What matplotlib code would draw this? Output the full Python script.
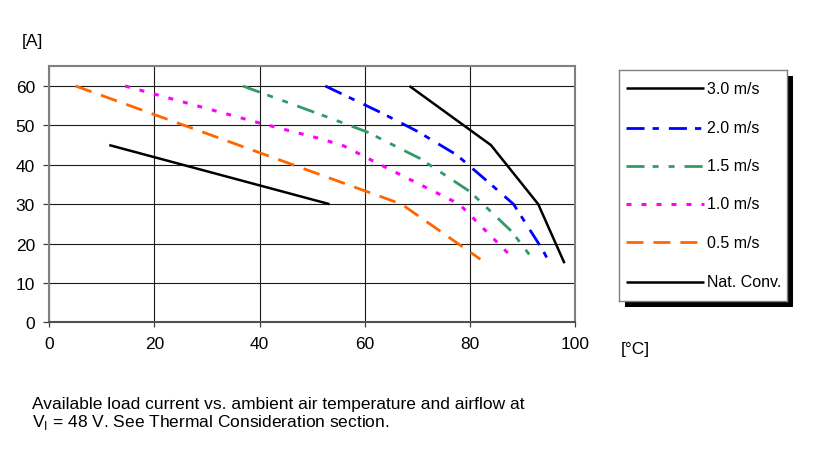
import matplotlib
matplotlib.use("Agg")
import matplotlib.pyplot as plt
from matplotlib.patches import Rectangle
from matplotlib.lines import Line2D

plt.rcParams['font.family'] = ['Liberation Sans', 'DejaVu Sans']
plt.rcParams['mathtext.fontset'] = 'custom'
plt.rcParams['mathtext.rm'] = 'Liberation Sans'
plt.rcParams['lines.scale_dashes'] = False

# ---- data ----
labels = ["3.0 m/s", "2.0 m/s", "1.5 m/s", "1.0 m/s", "0.5 m/s", "Nat. Conv."]
t_30 = [68.5, 84, 93, 98]
i_30 = [60, 45, 30, 15]
t_20 = [52.5, 63, 70, 77.5, 83.5, 88.3, 93.8, 95.2]
i_20 = [60, 53.3, 48.5, 42.5, 35.6, 30, 18.5, 15]
t_15 = [36.8, 52.3, 60.5, 70.5, 80, 88, 91.7]
i_15 = [60, 52.4, 48.3, 41.6, 33.2, 23, 16.5]
t_10 = [14.4, 40, 51.6, 56, 62.4, 78, 88.4]
i_10 = [60, 50.6, 46.6, 44.8, 40.4, 30, 16]
t_05 = [5, 67, 82]
i_05 = [60, 30, 16]
t_nc = [11.4, 53.3]
i_nc = [45, 30]
xticks = [0, 20, 40, 60, 80, 100]
yticks = [0, 10, 20, 30, 40, 50, 60]

series = [
    (t_30, i_30, dict(color='black', lw=1.8, linestyle='-')),
    (t_20, i_20, dict(color='#0000FF', lw=2.0, dashes=(13, 5.8, 4.5, 7.2))),
    (t_15, i_15, dict(color='#339966', lw=2.0, dashes=(13, 5.8, 4.3, 7.2, 4.3, 7.2))),
    (t_10, i_10, dict(color='#FF00FF', lw=2.2, dashes=(3.6, 7.2))),
    (t_05, i_05, dict(color='#FF6600', lw=2.0, dashes=(12.2, 7.2))),
    (t_nc, i_nc, dict(color='black', lw=1.8, linestyle='-')),
]

W, H = 819, 464
FS = 12.5
fig = plt.figure(figsize=(W / 100, H / 100), dpi=100)
ax = fig.add_axes([49.3 / W, 1 - 323.3 / H, (575 - 49.3) / W, (323.3 - 67.3) / H])

for x, y, st in series:
    ax.plot(x, y, solid_capstyle='butt', dash_capstyle='butt', zorder=3, **st)

ax.set_xlim(0, 100)
ax.set_ylim(0, 65)
ax.set_xticks(xticks)
ax.set_yticks(yticks)
ax.grid(True, color='#1a1a1a', lw=0.8)
ax.set_axisbelow(True)
for s in ax.spines.values():
    s.set_color('#808080')
    s.set_linewidth(1.5)
ax.spines['bottom'].set_color('#505050')
ax.tick_params(axis='y', length=4.3, width=0.9, color='#404040', pad=6, labelsize=FS)
ax.tick_params(axis='x', length=3.6, width=0.9, color='#404040', pad=6.5, labelsize=FS)

fig.text(32.5 / W, 1 - 41.7 / H, "[A]", ha='center', va='center', fontsize=FS)
fig.text(635 / W, 1 - 350 / H, "[°C]", ha='center', va='center', fontsize=FS)

# ---- legend (manual) ----
lx0, ly0, lx1, ly1 = 619.3, 71, 786.7, 302
sh = 6
fig.add_artist(Rectangle(((lx0 + sh) / W, 1 - (ly1 + sh) / H), (lx1 - lx0) / W, (ly1 - ly0) / H,
                         transform=fig.transFigure, facecolor='black', edgecolor='none', zorder=1))
lax = fig.add_axes([lx0 / W, 1 - ly1 / H, (lx1 - lx0) / W, (ly1 - ly0) / H], zorder=2)
lax.set_xlim(0, 1)
lax.set_ylim(0, 1)
lax.set_xticks([])
lax.set_yticks([])
for s in lax.spines.values():
    s.set_color('#808080')
    s.set_linewidth(1.0)
rows_px = [89.3, 129, 166.7, 205, 243.3, 282.7]
for (x, y, st), lab, rp in zip(series, labels, rows_px):
    yy = (ly1 - rp) / (ly1 - ly0)
    lax.add_line(Line2D([0.04, 0.506], [yy, yy], solid_capstyle='butt', dash_capstyle='butt', **st))
    lax.text(0.522, yy, lab, ha='left', va='center', fontsize=11.5)

fig.text(31.7 / W, 1 - 409.3 / H, "Available load current vs. ambient air temperature and airflow at",
         ha='left', va='baseline', fontsize=FS)
fig.text(31.7 / W, 1 - 427.3 / H, r"V$_\mathrm{I}$ = 48 V. See Thermal Consideration section.",
         ha='left', va='baseline', fontsize=FS)

fig.savefig("out.png", dpi=100)
